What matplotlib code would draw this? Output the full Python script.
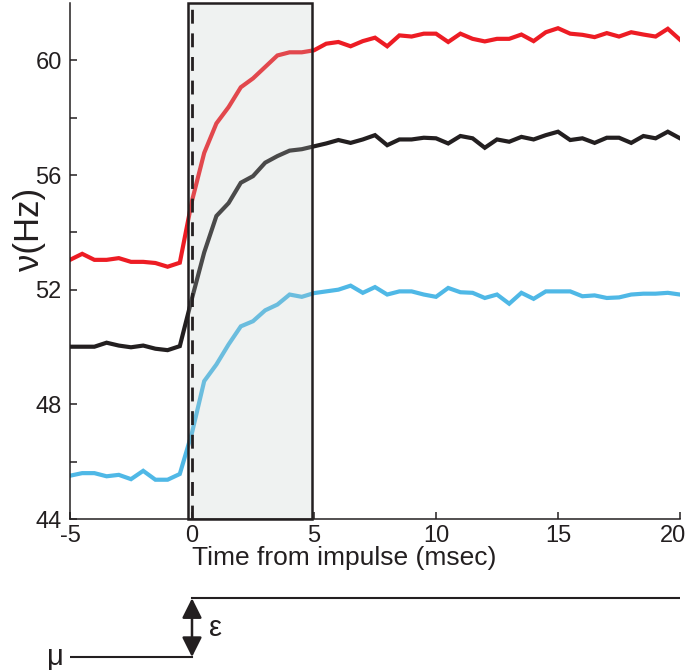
import numpy as np
import matplotlib
matplotlib.use("Agg")
import matplotlib.pyplot as plt
import matplotlib.transforms as mtransforms
from matplotlib.patches import Rectangle

plt.rcParams['font.family'] = ['Liberation Sans', 'DejaVu Sans']

# ── data ──
time_ms = np.arange(-5.0, 20.01, 0.5)

rate_red = [53.04, 53.25, 53.04, 53.04, 53.10, 52.97, 52.97, 52.93, 52.80, 52.94,
            55.10, 56.77, 57.80, 58.37, 59.06, 59.37, 59.77, 60.17, 60.28, 60.28, 60.35,
            60.58, 60.64, 60.49, 60.67, 60.79, 60.49, 60.87, 60.83, 60.93, 60.93,
            60.64, 60.93, 60.75, 60.66, 60.75, 60.75, 60.90, 60.67, 60.98, 61.12,
            60.93, 60.89, 60.81, 60.95, 60.83, 60.98, 60.90, 60.83, 61.10, 60.72]

rate_black = [50.01, 50.01, 50.01, 50.15, 50.05, 49.99, 50.05, 49.94, 49.89, 50.03,
              51.70, 53.30, 54.57, 55.02, 55.73, 55.96, 56.43, 56.66, 56.85, 56.90, 57.00,
              57.10, 57.22, 57.12, 57.24, 57.39, 57.04, 57.24, 57.24, 57.30, 57.28,
              57.10, 57.36, 57.28, 56.95, 57.24, 57.16, 57.33, 57.24, 57.39, 57.51,
              57.22, 57.28, 57.12, 57.30, 57.30, 57.12, 57.36, 57.28, 57.51, 57.28]

rate_blue = [45.51, 45.60, 45.60, 45.49, 45.54, 45.39, 45.68, 45.37, 45.37, 45.57,
             47.01, 48.81, 49.39, 50.09, 50.72, 50.90, 51.28, 51.48, 51.83, 51.75, 51.88,
             51.94, 52.00, 52.14, 51.89, 52.09, 51.83, 51.94, 51.94, 51.83, 51.75,
             52.06, 51.91, 51.89, 51.71, 51.83, 51.51, 51.89, 51.68, 51.94, 51.94,
             51.94, 51.77, 51.80, 51.71, 51.73, 51.83, 51.86, 51.86, 51.89, 51.83]

series_colors = ['#ed1c24', '#231f20', '#4fb8e6']

y_major = [44, 48, 52, 56, 60]
y_minor = [46, 50, 54, 58]
x_ticks = [-5, 0, 5, 10, 15, 20]
x_tick_labels = ['-5', '0', '5', '10', '15', '20']

window = (-0.15, 4.9)   # shaded window (msec)

# step input: mu before impulse, mu + eps after
step_t = [-5.0, 0, 0, 20]
step_level = [0, 0, 1, 1]

# ── figure ──
W, H = 690, 670
fig = plt.figure(figsize=(W / 100, H / 100), dpi=100)


def px_axes(x0, y0, x1, y1):
    """axes from pixel box (top-left origin)."""
    return fig.add_axes([x0 / W, 1 - y1 / H, (x1 - x0) / W, (y1 - y0) / H])


ax = px_axes(70, 3, 680, 519)
for rate, c in zip([rate_red, rate_black, rate_blue], series_colors):
    ax.plot(time_ms, rate, color=c, lw=3.0, solid_joinstyle='miter', zorder=2)

# translucent window on top of lines
ax.add_patch(Rectangle((window[0], 44), window[1] - window[0], 18,
                       facecolor='#c2ccc8', alpha=0.25, edgecolor='none', zorder=3))
ax.add_patch(Rectangle((window[0], 44), window[1] - window[0], 18,
                       facecolor='none', edgecolor='#231f20', lw=1.8, zorder=4,
                       clip_on=False))
ax.axvline(0, color='#231f20', lw=2.0, ls=(0, (5, 3.5)), zorder=4)

ax.set_xlim(-5, 20)
ax.set_ylim(44, 62)
ax.spines['top'].set_visible(False)
ax.spines['right'].set_visible(False)
for s in ['left', 'bottom']:
    ax.spines[s].set_linewidth(1.1)
    ax.spines[s].set_color('#231f20')

ax.set_yticks(y_major)
ax.set_yticks(y_minor, minor=True)
ax.set_xticks(x_ticks)
ax.set_xticklabels(x_tick_labels)
ax.tick_params(axis='both', which='both', direction='in', width=1.1,
               color='#231f20', labelsize=17, labelcolor='#231f20')
ax.tick_params(axis='both', which='major', length=5)
ax.tick_params(axis='y', which='minor', length=5)
ax.tick_params(axis='y', pad=6)
ax.tick_params(axis='x', pad=4)

# last x label sits a bit left so it stays inside the figure
last = ax.get_xticklabels()[-1]
last.set_transform(last.get_transform() +
                   mtransforms.ScaledTranslation(-7 / 100, 0, fig.dpi_scale_trans))

ax.set_xlabel('Time from impulse (msec)', fontsize=19, color='#231f20', ha='left')
ax.xaxis.set_label_coords(0.2, -0.075)
ax.xaxis.label.set_verticalalignment('center')

fig.text(29 / W, 1 - 229 / H, 'ν(Hz)', rotation=90, fontsize=25,
         ha='center', va='center', color='#231f20')

# ── step input sketch ──
ax2 = px_axes(70, 590, 680, 667)
ax2.plot(step_t[:2], step_level[:2], color='#231f20', lw=1.5)
ax2.plot(step_t[2:], step_level[2:], color='#231f20', lw=1.5)
ax2.annotate('', xy=(0, 1), xytext=(0, 0),
             arrowprops=dict(arrowstyle='<|-|>,head_length=0.6,head_width=0.3',
                             color='#231f20', lw=1.8, mutation_scale=20,
                             shrinkA=0, shrinkB=0))
ax2.text(-5.6, 0.0, 'μ', fontsize=21, ha='center', va='center', color='#231f20')
ax2.text(0.95, 0.5, 'ε', fontsize=21, ha='center', va='center', color='#231f20')
ax2.set_xlim(-5, 20)
ax2.set_ylim(-0.17, 1.14)
ax2.axis('off')

fig.savefig('out.png', dpi=100)
